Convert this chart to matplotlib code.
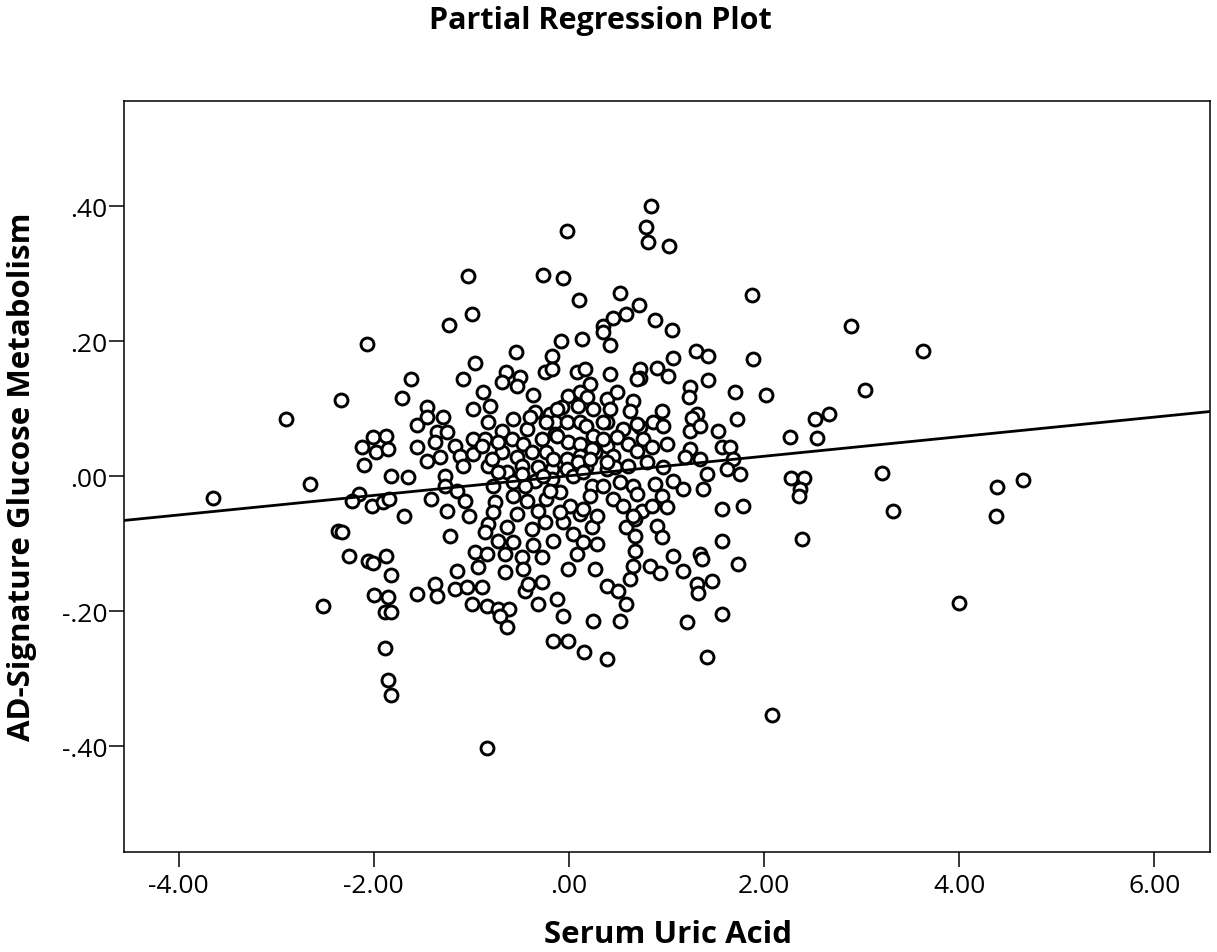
import numpy as np
import matplotlib.pyplot as plt

plt.rcParams['font.family'] = ['Open Sans', 'DejaVu Sans']

# partial residuals, grouped by region of the plot
left_x = [-2.07, -1.62, -2.34, -1.71, -2.90, -1.56, -2.01, -1.87, -2.12, -1.98,
          -1.85, -1.56, -2.10, -1.82, -1.65, -2.65, -3.65, -2.15, -2.22, -2.02,
          -1.91, -1.84, -1.69, -2.37, -2.33, -2.25, -2.06, -2.01, -1.87, -1.82,
          -1.56, -2.52, -2.00, -1.85, -1.89, -1.82, -1.89, -1.85, -1.82]
left_y = [0.196, 0.144, 0.113, 0.116, 0.084, 0.076, 0.058, 0.059, 0.043, 0.036,
          0.040, 0.043, 0.016, 0.000, -0.001, -0.012, -0.033, -0.027, -0.037, -0.044,
          -0.039, -0.034, -0.059, -0.081, -0.083, -0.119, -0.126, -0.129, -0.119, -0.147,
          -0.175, -0.193, -0.176, -0.179, -0.201, -0.201, -0.255, -0.302, -0.324]

upper_mid_x = [-0.02, -1.03, -0.27, -0.06, 0.10, -0.99, -1.23, 0.35, 0.35, -0.08,
               0.13, -0.54, -0.96, -0.17, -1.09, -0.98, -1.45, -1.29, -1.45, -1.35,
               -1.25, -1.37, -1.17, -0.98, -1.45, -1.32, -1.12, -1.09, -0.98, -1.27]
upper_mid_y = [0.364, 0.296, 0.298, 0.293, 0.261, 0.241, 0.224, 0.222, 0.213, 0.201,
               0.204, 0.184, 0.167, 0.178, 0.144, 0.099, 0.102, 0.087, 0.087, 0.065,
               0.065, 0.050, 0.044, 0.055, 0.022, 0.028, 0.030, 0.015, 0.033, 0.000]

lower_mid_x = [-1.27, -1.15, -1.41, -1.25, -1.07, -1.02, -0.83, -0.63, -0.38, -0.25,
               -0.06, 0.24, -1.22, -0.86, -0.73, -0.57, -0.37, -0.16, 0.04, 0.14,
               0.29, -0.96, -0.84, -0.66, -0.48, -0.28, 0.08, -0.93, -0.66, -0.47,
               -0.01, 0.27, -1.15, -1.37, -1.17, -1.04, -0.89, -1.35, -0.45, -0.28,
               -0.42, 0.39, -0.99, -0.84, -0.73, -0.61, -0.32, -0.12, -0.71, -0.63,
               -0.06, 0.25, -0.16, -0.01, 0.15, 0.39, -0.84]
lower_mid_y = [-0.015, -0.022, -0.034, -0.052, -0.037, -0.059, -0.071, -0.076, -0.079, -0.068,
               -0.068, -0.076, -0.089, -0.083, -0.096, -0.098, -0.102, -0.096, -0.086, -0.098,
               -0.101, -0.113, -0.116, -0.116, -0.120, -0.120, -0.116, -0.135, -0.142, -0.138,
               -0.138, -0.138, -0.141, -0.160, -0.167, -0.164, -0.164, -0.178, -0.170, -0.157,
               -0.160, -0.163, -0.190, -0.193, -0.197, -0.197, -0.190, -0.182, -0.207, -0.224,
               -0.207, -0.215, -0.244, -0.244, -0.261, -0.271, -0.403]

upper_right_x = [0.84, 0.79, 0.81, 1.03, 0.52, 1.88, 0.72, 0.59, 0.45, 0.42,
                 0.88, 1.06, 1.30, 1.43, 1.07, 1.89, 0.73, 0.73, 0.90, 1.02,
                 1.24, 1.23, 1.43, 1.70, 2.02, 0.95, 1.31, 1.26, 1.72, 0.73,
                 0.86, 0.96, 1.24, 1.34, 1.53, 0.76, 0.85, 1.01, 1.24, 1.57,
                 1.65, 1.19, 1.34, 1.68, 0.80, 0.96, 1.62, 1.75, 1.42]
upper_right_y = [0.400, 0.369, 0.347, 0.341, 0.271, 0.268, 0.253, 0.241, 0.234, 0.194,
                 0.231, 0.216, 0.185, 0.178, 0.175, 0.173, 0.159, 0.145, 0.160, 0.148,
                 0.132, 0.117, 0.142, 0.124, 0.121, 0.096, 0.092, 0.086, 0.084, 0.073,
                 0.080, 0.074, 0.067, 0.074, 0.067, 0.055, 0.043, 0.047, 0.040, 0.043,
                 0.043, 0.028, 0.025, 0.025, 0.021, 0.013, 0.010, 0.003, 0.003]

lower_right_x = [0.88, 1.07, 1.17, 1.37, 0.75, 0.85, 0.95, 1.01, 1.57, 1.78,
                 0.59, 0.68, 0.68, 0.90, 0.95, 1.57, 0.68, 1.07, 1.17, 1.34,
                 1.36, 1.73, 0.66, 0.83, 0.93, 0.63, 0.50, 0.59, 1.31, 1.32,
                 1.47, 1.57, 0.52, 1.21, 1.42, 2.08]
lower_right_y = [-0.012, -0.007, -0.019, -0.019, -0.052, -0.044, -0.030, -0.046, -0.049, -0.044,
                 -0.076, -0.064, -0.089, -0.074, -0.090, -0.096, -0.111, -0.119, -0.141, -0.116,
                 -0.123, -0.130, -0.133, -0.133, -0.144, -0.153, -0.170, -0.190, -0.160, -0.173,
                 -0.156, -0.204, -0.215, -0.216, -0.268, -0.354]

far_right_x = [2.89, 3.63, 3.03, 2.52, 2.67, 2.27, 2.54, 2.28, 2.41, 2.37,
               2.36, 3.21, 3.32, 4.39, 4.65, 4.38, 2.39, 4.00]
far_right_y = [0.222, 0.185, 0.127, 0.084, 0.092, 0.058, 0.056, -0.003, -0.003, -0.019,
               -0.030, 0.004, -0.052, -0.016, -0.006, -0.059, -0.093, -0.188]

core_x = [-0.64, -0.50, -0.69, -0.53, -0.25, -0.17, 0.08, 0.16, 0.22, 0.42, 0.70,
          -0.88, -0.37, -0.01, 0.11, 0.19, 0.39, 0.49, 0.66,
          -0.81, -0.57, -0.35, -0.19, -0.07, 0.09, 0.25, 0.42, 0.63,
          -0.83, -0.69, -0.43, -0.14, -0.02, 0.11, 0.18, 0.39, 0.55, 0.70,
          -0.86, -0.58, -0.47, -0.28, -0.14, -0.01, 0.11, 0.25, 0.39, 0.49, 0.61,
          -0.69, -0.53, -0.38, -0.23, -0.02, 0.11, 0.27, 0.45, 0.70,
          -0.83, -0.63, -0.48, -0.32, -0.17, -0.02, 0.18, 0.39, 0.47, 0.61,
          -0.78, -0.57, -0.35, -0.17, 0.04, 0.24, 0.35, 0.52, 0.66,
          -0.76, -0.57, -0.43, -0.23, -0.09, 0.01, 0.22, 0.45, 0.55, 0.70,
          -0.78, -0.53, -0.32, -0.09, 0.11, 0.29, 0.66,
          -0.73, -0.27, -0.19, 0.14, -0.45, -0.40, -0.23, -0.12, 0.35, -0.12,
          0.24, 0.35, -0.89, -0.73, -0.16, 0.09, 0.22, 0.39, -0.79, -0.48, 0.14]
core_y = [0.154, 0.147, 0.139, 0.133, 0.154, 0.159, 0.154, 0.159, 0.136, 0.151, 0.144,
          0.124, 0.121, 0.119, 0.124, 0.117, 0.114, 0.124, 0.111,
          0.104, 0.084, 0.095, 0.092, 0.102, 0.104, 0.099, 0.099, 0.096,
          0.080, 0.067, 0.070, 0.081, 0.081, 0.080, 0.074, 0.081, 0.070, 0.077,
          0.055, 0.055, 0.047, 0.055, 0.062, 0.050, 0.047, 0.059, 0.044, 0.058, 0.047,
          0.036, 0.028, 0.036, 0.036, 0.025, 0.030, 0.036, 0.030, 0.037,
          0.015, 0.006, 0.015, 0.013, 0.010, 0.010, 0.013, 0.010, 0.013, 0.015,
          -0.015, -0.009, -0.007, -0.004, 0.000, -0.015, -0.015, -0.009, -0.015,
          -0.039, -0.030, -0.037, -0.034, -0.024, -0.044, -0.030, -0.034, -0.044, -0.027,
          -0.053, -0.056, -0.052, -0.053, -0.056, -0.059, -0.059,
          0.006, 0.000, -0.022, -0.049, -0.015, 0.087, 0.080, 0.099, 0.080, 0.059,
          0.040, 0.055, 0.044, 0.050, 0.025, 0.021, 0.025, 0.021, 0.025, 0.003, 0.006]

# fitted line as drawn by the stats package
fit_slope = 0.0145
fit_intercept = 0.0005

x_ticks = [-4, -2, 0, 2, 4, 6]
x_tick_labels = ['-4.00', '-2.00', '.00', '2.00', '4.00', '6.00']
y_ticks = [-0.4, -0.2, 0.0, 0.2, 0.4]
y_tick_labels = ['-.40', '-.20', '.00', '.20', '.40']

xs = np.concatenate([left_x, upper_mid_x, lower_mid_x, upper_right_x,
                     lower_right_x, far_right_x, core_x])
ys = np.concatenate([left_y, upper_mid_y, lower_mid_y, upper_right_y,
                     lower_right_y, far_right_y, core_y])

fig = plt.figure(figsize=(12.17, 9.53), dpi=100)
ax = fig.add_axes([0.1019, 0.1049, 0.8923, 0.7881])

ax.plot(xs, ys, linestyle='none', marker='o', markersize=9.3,
        markerfacecolor='white', markeredgecolor='black', markeredgewidth=2.1)

xlim = (-4.56, 6.57)
line_x = np.array(xlim)
ax.plot(line_x, fit_intercept + fit_slope * line_x, color='black', linewidth=2.0)

ax.set_xlim(*xlim)
ax.set_ylim(-0.557, 0.556)
ax.set_xticks(x_ticks)
ax.set_xticklabels(x_tick_labels)
ax.set_yticks(y_ticks)
ax.set_yticklabels(y_tick_labels)
ax.tick_params(direction='out', length=11, width=1.1, labelsize=19)
ax.tick_params(axis='x', pad=4)
ax.tick_params(axis='y', pad=1)
for s in ax.spines.values():
    s.set_linewidth(1.1)

fig.text(0.549, 0.019, 'Serum Uric Acid', ha='center', va='center',
         fontsize=22.5, fontweight='bold')
fig.text(0.018, 0.5, 'AD-Signature Glucose Metabolism', ha='center', va='center',
         rotation=90, fontsize=22.5, fontweight='bold')
fig.text(0.493, 0.978, 'Partial Regression Plot', ha='center', va='center',
         fontsize=22, fontweight='bold')

fig.savefig('out.png', dpi=100)
